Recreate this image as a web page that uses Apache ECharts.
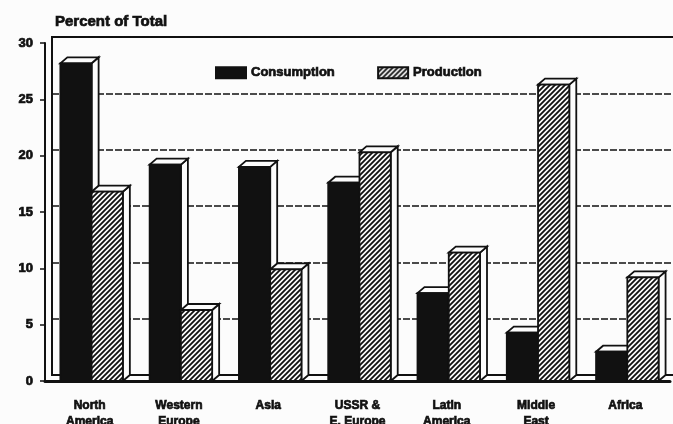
<!DOCTYPE html>
<html>
<head>
<meta charset="utf-8">
<script src="https://cdn.jsdelivr.net/npm/echarts@6/dist/echarts.min.js"></script>
<style>
  html, body { margin: 0; padding: 0; background: #fcfcfc; }
  #chart { width: 673px; height: 424px; }
</style>
</head>
<body>
<div id="chart"></div>
<script>
// Regional shares of world oil, percent of total
var categories = ['North\nAmerica', 'Western\nEurope', 'Asia', 'USSR &\nE. Europe', 'Latin\nAmerica', 'Middle\nEast', 'Africa'];
var consumption = [28.2, 19.2, 19.0, 17.6, 7.8, 4.3, 2.6];
var production = [16.8, 6.3, 9.9, 20.3, 11.4, 26.3, 9.2];
var yTicks = [0, 5, 10, 15, 20, 25, 30];

var INK = '#111';
var PAPER = '#fcfcfc';
var FONT = '"Liberation Sans", Arial, sans-serif';

// heavy lettering: bold face with a thin outline of the same ink
function heavy(size) {
  return {
    fontFamily: FONT, fontSize: size, fontWeight: 'bold', color: INK,
    textBorderColor: INK, textBorderWidth: 0.7
  };
}

// Diagonal "////" hatch used for the production bars
function makeHatch() {
  var s = 5;
  var c = document.createElement('canvas');
  c.width = s; c.height = s;
  var g = c.getContext('2d');
  g.fillStyle = PAPER;
  g.fillRect(0, 0, s, s);
  g.strokeStyle = INK;
  g.lineWidth = 1.8;
  g.beginPath();
  g.moveTo(-1, s + 1); g.lineTo(s + 1, -1);
  g.moveTo(-1, 1); g.lineTo(1, -1);
  g.moveTo(s - 1, s + 1); g.lineTo(s + 1, s - 1);
  g.stroke();
  return { image: c, repeat: 'repeat' };
}
var hatch = makeHatch();

// Depth of the extruded bars (px)
var DX = 7, DY = 6;

function barRenderer(side, fill) {
  return function (params, api) {
    var cat = api.value(0);
    var val = api.value(1);
    var top = api.coord([cat, val]);
    var base = api.coord([cat, 0]);
    var band = api.size([1, 0])[0];
    var w = band * 0.35;
    var split = top[0] + band * 0.022;
    var x0 = side === 0 ? split - w : split;
    var x1 = x0 + w;
    var yT = top[1], yB = base[1];
    var stroke = { stroke: INK, lineWidth: 1.8 };
    return {
      type: 'group',
      children: [
        {
          type: 'polygon',
          shape: { points: [[x1, yB], [x1, yT], [x1 + DX, yT - DY], [x1 + DX, yB - DY]] },
          style: Object.assign({ fill: PAPER }, stroke)
        },
        {
          type: 'polygon',
          shape: { points: [[x0, yT], [x1, yT], [x1 + DX, yT - DY], [x0 + DX, yT - DY]] },
          style: Object.assign({ fill: PAPER }, stroke)
        },
        {
          type: 'rect',
          shape: { x: x0, y: yT, width: w, height: yB - yT },
          style: Object.assign({ fill: fill }, stroke)
        }
      ]
    };
  };
}

var chart = echarts.init(document.getElementById('chart'), null, { renderer: 'canvas' });

chart.setOption({
  backgroundColor: PAPER,
  animation: false,
  title: {
    text: 'Percent of Total',
    left: 50, top: 9,
    textStyle: heavy(15)
  },
  legend: {
    left: 210, top: 61,
    itemWidth: 30, itemHeight: 11, itemGap: 42,
    icon: 'rect',
    textStyle: heavy(13),
    data: ['Consumption', 'Production']
  },
  grid: [
    // front plane: axes, labels, bars
    { left: 45, right: 3, top: 43, bottom: 43, outerBoundsMode: 'none', containLabel: false },
    // back wall: frame and grid lines
    { left: 52, right: -4, top: 37, bottom: 49, outerBoundsMode: 'none', containLabel: false,
      show: true, borderColor: INK, borderWidth: 2, backgroundColor: 'transparent' }
  ],
  xAxis: [
    {
      gridIndex: 0, type: 'category', data: categories, boundaryGap: true,
      axisLine: { lineStyle: { color: INK, width: 3 } },
      axisTick: { alignWithLabel: true, length: 6, lineStyle: { color: INK, width: 1.5 } },
      axisLabel: Object.assign({ margin: 17, lineHeight: 16 }, heavy(12))
    },
    {
      gridIndex: 1, type: 'category', data: categories, show: false
    }
  ],
  yAxis: [
    {
      gridIndex: 0, type: 'value', min: 0, max: 30, interval: 5,
      axisLine: { show: true, lineStyle: { color: INK, width: 2 } },
      axisTick: { show: true, length: 5, lineStyle: { color: INK, width: 1.5 } },
      splitLine: { show: false },
      axisLabel: Object.assign({
        margin: 12,
        formatter: function (v) { return yTicks.indexOf(v) >= 0 ? String(v) : ''; }
      }, heavy(13))
    },
    {
      gridIndex: 1, type: 'value', min: 0, max: 30, interval: 5,
      axisLine: { show: false }, axisTick: { show: false }, axisLabel: { show: false },
      splitLine: { show: true, lineStyle: { color: INK, width: 1.5, type: [7, 2] } }
    }
  ],
  series: [
    {
      name: 'Consumption', type: 'custom',
      xAxisIndex: 0, yAxisIndex: 0,
      itemStyle: { color: INK, borderColor: INK, borderWidth: 1 },
      renderItem: barRenderer(0, INK),
      encode: { x: 0, y: 1 },
      data: consumption.map(function (v, i) { return [i, v]; }),
      z: 3
    },
    {
      name: 'Production', type: 'custom',
      xAxisIndex: 0, yAxisIndex: 0,
      itemStyle: { color: hatch, borderColor: INK, borderWidth: 1.5 },
      renderItem: barRenderer(1, hatch),
      encode: { x: 0, y: 1 },
      data: production.map(function (v, i) { return [i, v]; }),
      z: 4
    }
  ]
});
</script>
</body>
</html>
